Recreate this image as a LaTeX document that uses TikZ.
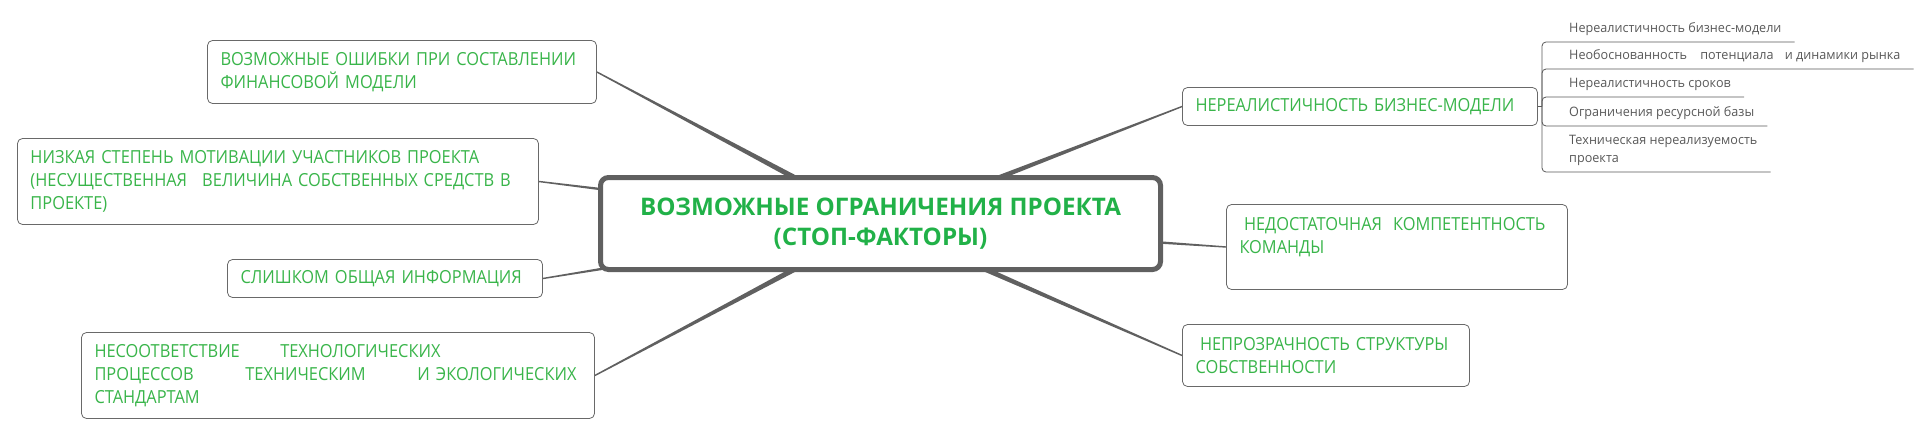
\documentclass[tikz,border=0pt]{standalone}
\usepackage{fontspec}
\setmainfont{Open Sans}
\newfontfamily\topicfont{Open Sans}[FakeStretch=0.91]
\newfontfamily\itemfont{Open Sans}[FakeStretch=0.97]
\usetikzlibrary{calc,backgrounds}
\definecolor{mapgreen}{RGB}{57,181,74}
\definecolor{titlegreen}{RGB}{33,177,72}
\definecolor{framegray}{RGB}{105,105,105}
\definecolor{linegray}{RGB}{96,96,96}
\definecolor{listgray}{RGB}{88,88,88}
\newcommand\mapline[2]{\fill[linegray] ($(#1)!3.4pt!90:(#2)$) -- ($(#2)!0.7pt!-90:(#1)$) -- ($(#2)!0.7pt!90:(#1)$) -- ($(#1)!3.4pt!-90:(#2)$) -- cycle;}
\begin{document}
\begin{tikzpicture}[x=1pt, y=-1pt,
    topic/.style={draw=framegray, line width=0.8pt, rounded corners=5pt, fill=white, text=mapgreen, align=left, inner xsep=13pt, inner ysep=0pt, font=\topicfont\fontsize{18}{23.3}\selectfont},
    central/.style={draw=linegray, line width=5pt, rounded corners=8pt, fill=white, text=titlegreen, align=center, minimum width=560pt, minimum height=92pt, font=\bfseries\fontsize{24.2}{30}\selectfont},
    item/.style={anchor=south west, text=listgray, align=left, inner xsep=13pt, inner ysep=6pt, font=\itemfont\fontsize{13}{18}\selectfont},
    listline/.style={draw=listgray, line width=0.8pt, rounded corners=4pt}]
    \useasboundingbox (0,0) rectangle (1931,436);

    \node[central] (c) at (880.5,223.5) {ВОЗМОЖНЫЕ ОГРАНИЧЕНИЯ ПРОЕКТА\\(СТОП-ФАКТОРЫ)};

    \node[topic, text width=363pt, minimum height=63pt] (l1) at (402,72) {\mbox{ВОЗМОЖНЫЕ ОШИБКИ ПРИ СОСТАВЛЕНИИ}\\\mbox{ФИНАНСОВОЙ МОДЕЛИ}};
    \node[topic, text width=495pt, minimum height=86pt] (l2) at (278,181.5) {\mbox{НИЗКАЯ СТЕПЕНЬ МОТИВАЦИИ УЧАСТНИКОВ ПРОЕКТА}\\\mbox{(НЕСУЩЕСТВЕННАЯ\hspace{9pt} ВЕЛИЧИНА СОБСТВЕННЫХ СРЕДСТВ В}\\\mbox{ПРОЕКТЕ)}};
    \node[topic, text width=289pt, minimum height=38pt] (l3) at (385,278.5) {\mbox{СЛИШКОМ ОБЩАЯ ИНФОРМАЦИЯ}};
    \node[topic, text width=487pt, minimum height=86pt] (l4) at (338,375.5) {\makebox[346pt][s]{НЕСООТВЕТСТВИЕ\hfill ТЕХНОЛОГИЧЕСКИХ}\\\makebox[482pt][s]{ПРОЦЕССОВ\hfill ТЕХНИЧЕСКИМ\hfill И ЭКОЛОГИЧЕСКИХ}\\\mbox{СТАНДАРТАМ}};

    \node[topic, text width=329pt, minimum height=38pt] (r1) at (1360,106.5) {\mbox{НЕРЕАЛИСТИЧНОСТЬ БИЗНЕС-МОДЕЛИ}};
    \node[topic, text width=315pt, minimum height=85pt] (r2) at (1397,247) {\mbox{\hspace*{4.5pt}НЕДОСТАТОЧНАЯ\hspace{5pt} КОМПЕТЕНТНОСТЬ}\\\mbox{КОМАНДЫ}\\\mbox{}};
    \node[topic, text width=261pt, minimum height=62pt] (r3) at (1326,355.5) {\mbox{\hspace*{4.5pt}НЕПРОЗРАЧНОСТЬ СТРУКТУРЫ}\\\mbox{СОБСТВЕННОСТИ}};

    \coordinate (jn) at (1542,106.5);
    \node[item] (s1) at (1556,42) {Нереалистичность бизнес-модели};
    \node[item] (s2) at (1556,69) {Необоснованность\hspace{10pt} потенциала\hspace{8pt} и динамики рынка};
    \node[item] (s3) at (1556,97) {Нереалистичность сроков};
    \node[item] (s4) at (1556,126) {Ограничения ресурсной базы};
    \node[item] (s5) at (1556,172) {Техническая нереализуемость\\проекта};

    \draw[listline] (r1.east) -- (jn);
    \foreach \s in {s1,s2,s3,s4,s5}
        \draw[listline] (jn) |- (\s.south east);

    \begin{scope}[on background layer]
        \foreach \t/\side in {l1/east,l2/east,l3/east,l4/east,r1/west,r2/west,r3/west}
            {\mapline{c}{\t.\side}}
    \end{scope}
\end{tikzpicture}
\end{document}
